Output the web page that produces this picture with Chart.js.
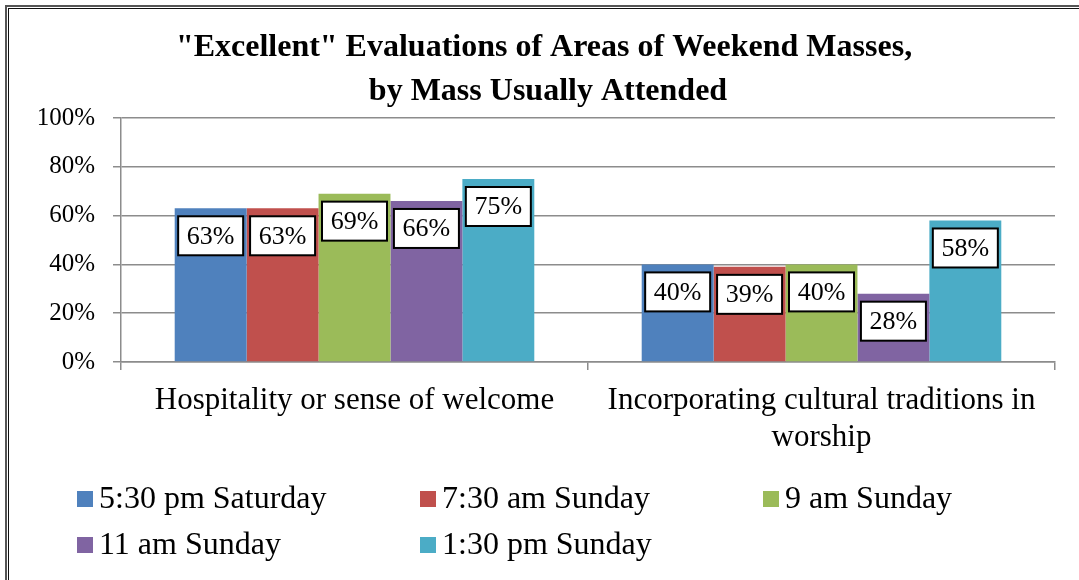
<!DOCTYPE html>
<html>
<head>
<meta charset="utf-8">
<script src="https://cdn.jsdelivr.net/npm/chart.js@4/dist/chart.umd.min.js"></script>
<style>
  html, body { margin: 0; padding: 0; background: #fff; }
  #wrap { position: relative; width: 1079px; height: 580px; overflow: hidden; }
  #frameOuter { position: absolute; left: 5px; top: 5px; right: -10px; bottom: -10px;
    border-left: 2px solid #555; border-top: 2px solid #555; }
  #frameInner { position: absolute; left: 8px; top: 8px; right: -10px; bottom: -10px;
    border-left: 1px solid #111; border-top: 1px solid #111; }
  canvas { position: absolute; left: 0; top: 0; }
</style>
</head>
<body>
<div id="wrap">
  <canvas id="chart" width="1079" height="580"></canvas>
  <div id="frameOuter"></div>
  <div id="frameInner"></div>
</div>
<script>
const categories = ['Hospitality or sense of welcome', ['Incorporating cultural traditions in', 'worship']];
const seriesNames = ['5:30 pm Saturday', '7:30 am Sunday', '9 am Sunday', '11 am Sunday', '1:30 pm Sunday'];
const sat530 = [63, 40];
const sun730 = [63, 39];
const sun9 = [69, 40];
const sun11 = [66, 28];
const sun130 = [75, 58];
const yTicks = [0, 20, 40, 60, 80, 100];
const titleLines = ['"Excellent" Evaluations of Areas of Weekend Masses,', 'by Mass Usually Attended'];

const colors = ['#4F81BD', '#C0504D', '#9BBB59', '#8064A2', '#4BACC6'];
const serif = "'Liberation Serif', 'Times New Roman', serif";
const gridColor = '#8c8c8c';

document.addEventListener('DOMContentLoaded', () => {
  const values = [sat530, sun730, sun9, sun11, sun130];

  // Title, boxed value labels and the two-row legend
  const decorations = {
    id: 'decorations',
    afterDraw(chart) {
      const ctx = chart.ctx;
      ctx.save();

      // title
      ctx.fillStyle = '#000';
      ctx.font = `bold 32px ${serif}`;
      ctx.textAlign = 'center';
      ctx.textBaseline = 'middle';
      ctx.fillText(titleLines[0], 544, 48);
      ctx.fillText(titleLines[1], 548, 92);

      // value labels
      ctx.font = `26px ${serif}`;
      chart.data.datasets.forEach((ds, i) => {
        const meta = chart.getDatasetMeta(i);
        meta.data.forEach((bar, j) => {
          const txt = ds.data[j] + '%';
          const w = 65, h = 39;
          const x = bar.x - w / 2;
          const y = bar.y + 8;
          ctx.fillStyle = '#fff';
          ctx.fillRect(x, y, w, h);
          ctx.strokeStyle = '#000';
          ctx.lineWidth = 2;
          ctx.strokeRect(x, y, w, h);
          ctx.fillStyle = '#000';
          ctx.fillText(txt, bar.x, y + h / 2 + 1);
        });
      });

      // legend
      ctx.font = `32px ${serif}`;
      ctx.textAlign = 'left';
      const colX = [77, 420, 763];
      const rowY = [499, 545];
      chart.data.datasets.forEach((ds, i) => {
        const x = colX[i % 3];
        const y = rowY[Math.floor(i / 3)];
        ctx.fillStyle = ds.backgroundColor;
        ctx.fillRect(x, y - 8, 16, 16);
        ctx.fillStyle = '#000';
        ctx.fillText(ds.label, x + 22, y + 1);
      });
      ctx.restore();
    }
  };

  new Chart(document.getElementById('chart'), {
    type: 'bar',
    data: {
      labels: categories,
      datasets: seriesNames.map((name, i) => ({
        label: name,
        data: values[i],
        backgroundColor: colors[i],
        borderWidth: 0,
        barPercentage: 1,
        categoryPercentage: 0.77
      }))
    },
    options: {
      responsive: false,
      animation: false,
      layout: { padding: { left: 0, right: 24, top: 118, bottom: 100 } },
      plugins: {
        legend: { display: false },
        title: { display: false },
        tooltip: { enabled: false }
      },
      scales: {
        x: {
          afterFit: s => { s.height = 118; },
          grid: { drawOnChartArea: false, drawTicks: true, tickLength: 8, color: gridColor, lineWidth: 1.5, offset: true },
          border: { display: true, color: gridColor, width: 1.5 },
          ticks: { color: '#000', font: { family: serif, size: 31, lineHeight: 1.2 }, padding: 12, maxRotation: 0, autoSkip: false }
        },
        y: {
          min: 0,
          max: 100,
          afterFit: s => { s.width = 121; },
          afterBuildTicks: s => { s.ticks = yTicks.map(v => ({ value: v })); },
          grid: { color: gridColor, lineWidth: 1.5, tickLength: 8 },
          border: { display: true, color: gridColor, width: 1.5 },
          ticks: { color: '#000', font: { family: serif, size: 25 }, padding: 18, callback: v => v + '%' }
        }
      }
    },
    plugins: [decorations]
  });
});
</script>
</body>
</html>
